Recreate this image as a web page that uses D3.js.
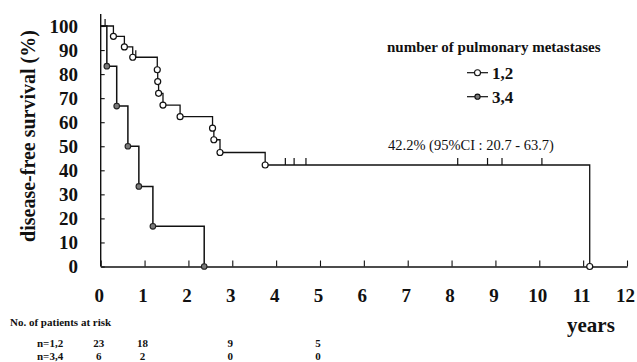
<!DOCTYPE html>
<html><head><meta charset="utf-8">
<script src="https://cdn.jsdelivr.net/npm/d3@7"></script>
<style>
html,body{margin:0;padding:0;background:#fff;}
svg{display:block;}
text{font-family:"Liberation Serif","Times New Roman",serif;fill:#111;}
</style></head>
<body>
<svg id="chart" width="637" height="362"></svg>
<script>
// ---- data ----
const xTicks = [0,1,2,3,4,5,6,7,8,9,10,11,12];
const yTicks = [0,10,20,30,40,50,60,70,80,90,100];
const seriesNames = ["1,2","3,4"];
// group 1,2 (events)
const timesA = [0.29,0.54,0.73,1.29,1.30,1.32,1.42,1.81,2.55,2.58,2.72,3.75,11.15];
const survA  = [95.7,91.3,87.0,81.8,76.9,72.0,67.1,62.3,57.5,52.7,47.4,42.2,0];
// group 1,2 (censored)
const censorTimesA = [0.10,0.80,4.21,4.41,4.68,8.14,8.82,9.15,10.06];
const censorSurvA  = [100,87.0,42.2,42.2,42.2,42.2,42.2,42.2,42.2];
// group 3,4 (events)
const timesB = [0.14,0.365,0.62,0.87,1.19,2.36];
const survB  = [83.3,66.7,50.0,33.3,16.7,0];
// numbers at risk
const riskTimes = [0,1,3,5];
const riskA = [23,18,9,5];
const riskB = [6,2,0,0];
const riskLabels = ["n=1,2","n=3,4"];
const annotation = "42.2% (95%CI : 20.7 - 63.7)";

// ---- scales ----
const svg = d3.select("#chart");
const x = d3.scaleLinear().domain([0,12]).range([100.7,627]);
const y = d3.scaleLinear().domain([0,100]).range([266.5,26]);

// ---- axes ----
const xAxis = svg.append("g").attr("transform",`translate(0,${y(0)})`)
  .call(d3.axisBottom(x).tickValues(xTicks).tickSizeInner(-6).tickSizeOuter(0).tickPadding(22.5).tickFormat(d3.format("d")));
xAxis.select(".domain").attr("stroke","#111").attr("stroke-width",1.3);
xAxis.selectAll(".tick line").attr("stroke","#111").attr("stroke-width",1.1);
xAxis.selectAll(".tick text").attr("dx",-2).style("font-size","19px").style("font-weight","bold").attr("fill","#111");

const yAxis = svg.append("g").attr("transform",`translate(${x(0)},0)`)
  .call(d3.axisLeft(y).tickValues(yTicks).tickSizeInner(-4).tickSizeOuter(0).tickPadding(22.7));
yAxis.select(".domain").remove();
yAxis.selectAll(".tick line").attr("stroke","#111").attr("stroke-width",1.1);
yAxis.selectAll(".tick text").style("font-size","19px").style("font-weight","bold").attr("fill","#111");
svg.append("line").attr("x1",x(0)).attr("x2",x(0)).attr("y1",y(0)).attr("y2",y(100)-12)
  .attr("stroke","#111").attr("stroke-width",1.4);

// axis titles
svg.append("text").attr("transform","translate(35,136) rotate(-90)").attr("text-anchor","middle")
  .style("font-size","20px").style("font-weight","bold").text("disease-free survival (%)");
svg.append("text").attr("x",567).attr("y",332).style("font-size","21px").style("font-weight","bold").text("years");

// ---- step curves ----
function stepPoints(times, surv){
  const pts=[[0,100]];
  times.forEach((t,i)=>pts.push([t,surv[i]]));
  return pts;
}
const line = d3.line().x(d=>x(d[0])).y(d=>y(d[1])).curve(d3.curveStepAfter);
const ptsA = stepPoints(timesA,survA);
const ptsB = stepPoints(timesB,survB);
svg.append("path").attr("d",line(ptsA)).attr("fill","none").attr("stroke","#111").attr("stroke-width",1.3);
svg.append("path").attr("d",line(ptsB)).attr("fill","none").attr("stroke","#111").attr("stroke-width",1.5);

// censor ticks
svg.selectAll(".cens").data(censorTimesA).enter().append("line")
  .attr("x1",d=>x(d)).attr("x2",d=>x(d))
  .attr("y1",(d,i)=>y(censorSurvA[i])).attr("y2",(d,i)=>y(censorSurvA[i])-7)
  .attr("stroke","#111").attr("stroke-width",1.2);

// event markers
svg.selectAll(".ca").data(timesA).enter().append("circle")
  .attr("cx",d=>x(d)).attr("cy",(d,i)=>y(survA[i])).attr("r",3)
  .attr("fill","#fff").attr("stroke","#111").attr("stroke-width",1.2);
svg.selectAll(".cb").data(timesB).enter().append("circle")
  .attr("cx",d=>x(d)).attr("cy",(d,i)=>y(survB[i])).attr("r",2.8)
  .attr("fill","#7a7a7a").attr("stroke","#222").attr("stroke-width",1.1);

// annotation
svg.append("text").attr("x",388).attr("y",150).style("font-size","14.5px").text(annotation);

// ---- legend ----
svg.append("text").attr("x",387).attr("y",52).style("font-size","15px").style("font-weight","bold").text("number of pulmonary metastases");
const legY = [72.7,96.7];
seriesNames.forEach((name,i)=>{
  const g = svg.append("g");
  g.append("line").attr("x1",467).attr("x2",488).attr("y1",legY[i]).attr("y2",legY[i]).attr("stroke","#111").attr("stroke-width",1.2);
  g.append("circle").attr("cx",477.5).attr("cy",legY[i]).attr("r",i===0?3:2.6)
    .attr("fill",i===0?"#fff":"#7a7a7a").attr("stroke","#111").attr("stroke-width",1.1);
  g.append("text").attr("x",492).attr("y",legY[i]+6).style("font-size","17px").style("font-weight","bold").text(name);
});

// ---- risk table ----
svg.append("text").attr("x",10).attr("y",326).style("font-size","11px").style("font-weight","bold").text("No. of patients at risk");
const rowY = [346.5,360];
[riskA,riskB].forEach((row,r)=>{
  svg.append("text").attr("x",37).attr("y",rowY[r]).style("font-size","11px").style("font-weight","bold").text(riskLabels[r]);
  svg.selectAll(".r"+r).data(row).enter().append("text")
    .attr("x",(d,i)=>x(riskTimes[i])-2).attr("y",rowY[r]).attr("text-anchor","middle")
    .style("font-size","11px").style("font-weight","bold").text(d=>d);
});
</script>
</body></html>
